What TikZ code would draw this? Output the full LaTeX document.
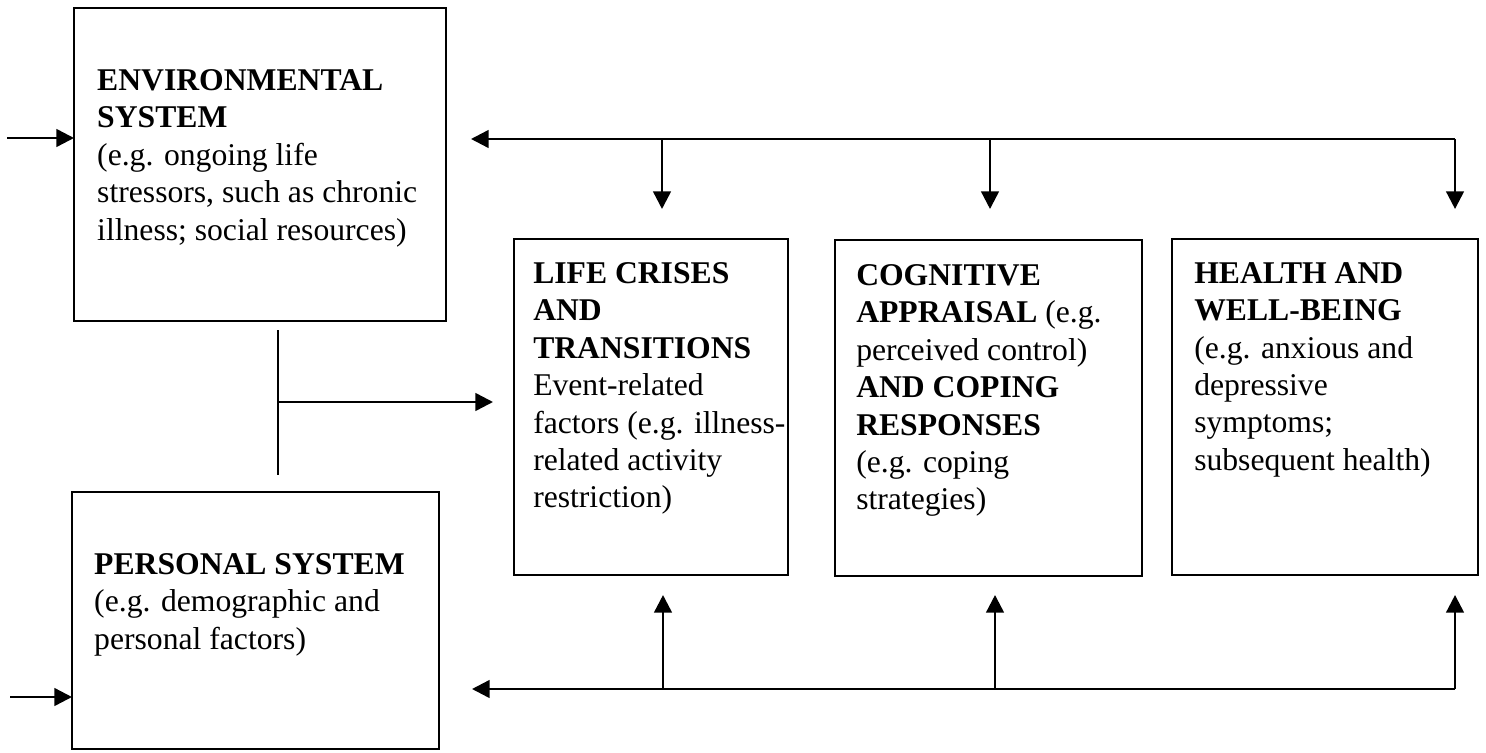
\documentclass[tikz,border=0pt]{standalone}
\usepackage{fontspec}
\setmainfont{Liberation Serif}
\usepackage{tikz}
\usetikzlibrary{arrows.meta, positioning}

\begin{document}
\begin{tikzpicture}[x=0.01cm, y=-0.01cm, line width=0.7pt,
    box/.style={draw, anchor=north west, inner sep=0pt, outer sep=0pt},
    txt/.style={inner sep=0pt, align=left, font=\fontsize{9}{10.65}\selectfont},
    arr/.style={-{Triangle[length=5pt, width=5pt]}}]
    \useasboundingbox (0,0) rectangle (1486,752);

    % Boxes
    \node[box, minimum width=3.72cm, minimum height=3.13cm] (env) at (74,8) {};
    \node[box, minimum width=3.67cm, minimum height=2.57cm] (pers) at (72,492) {};
    \node[box, minimum width=2.74cm, minimum height=3.36cm] (life) at (514,239) {};
    \node[box, minimum width=3.07cm, minimum height=3.36cm] (cog) at (835,240) {};
    \node[box, minimum width=3.06cm, minimum height=3.36cm] (health) at (1172,239) {};

    % Labels
    \node[txt, below right=0.60cm and 0.22cm of env.north west] (envtxt)
        {\textbf{ENVIRONMENTAL}\\\textbf{SYSTEM}\\(e.g. ongoing life\\stressors, such as chronic\\illness; social resources)};
    \node[txt, below right=0.60cm and 0.21cm of pers.north west] (perstxt)
        {\textbf{PERSONAL SYSTEM}\\(e.g. demographic and\\personal factors)};
    \node[txt, below right=0.22cm and 0.18cm of life.north west] (lifetxt)
        {\textbf{LIFE CRISES}\\\textbf{AND}\\\textbf{TRANSITIONS}\\Event-related\\factors (e.g. illness-\\related activity\\restriction)};
    \node[txt, below right=0.23cm and 0.20cm of cog.north west] (cogtxt)
        {\textbf{COGNITIVE}\\\textbf{APPRAISAL} (e.g.\\perceived control)\\\textbf{AND COPING}\\\textbf{RESPONSES}\\(e.g. coping\\strategies)};
    \node[txt, below right=0.22cm and 0.21cm of health.north west] (healthtxt)
        {\textbf{HEALTH AND}\\\textbf{WELL-BEING}\\(e.g. anxious and\\depressive\\symptoms;\\subsequent health)};

    % Inputs from the left
    \coordinate (envin) at (7,138);
    \coordinate (persin) at (10,697);
    \draw[arr] (envin) -- (envin -| env.west);
    \draw[arr] (persin) -- (persin -| pers.west);

    % Joint line to life crises
    \coordinate (jtop) at (278,330);
    \coordinate (jbot) at (278,475);
    \coordinate (jmid) at (278,402);
    \coordinate (jtip) at (493,402);
    \draw (jtop) -- (jbot);
    \draw[arr] (jmid) -- (jtip);

    % Feedback along the top
    \coordinate (topl) at (471,139);
    \coordinate (topr) at (1455,139);
    \coordinate (dlife) at (662,139);
    \coordinate (dcog) at (990,139);
    \draw[arr] (topr) -- (topl);
    \draw[arr] (dlife) -- (662,209);
    \draw[arr] (dcog) -- (990,209);
    \draw[arr] (topr) -- (1455,209);

    % Feedback along the bottom
    \coordinate (botl) at (472,689);
    \coordinate (botr) at (1455,689);
    \coordinate (ulife) at (663,689);
    \coordinate (ucog) at (995,689);
    \draw[arr] (botr) -- (botl);
    \draw[arr] (ulife) -- (663,595);
    \draw[arr] (ucog) -- (995,595);
    \draw[arr] (botr) -- (1455,595);
\end{tikzpicture}
\end{document}
